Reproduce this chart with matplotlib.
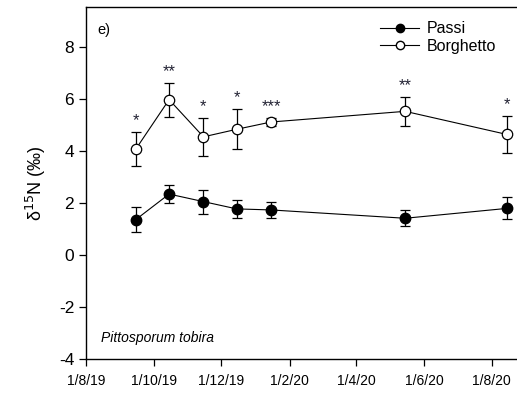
import matplotlib
matplotlib.use("Agg")
import matplotlib.pyplot as plt
from matplotlib.lines import Line2D
import datetime as dt

plt.rcParams['font.family'] = ['Liberation Sans', 'DejaVu Sans']
plt.rcParams['axes.unicode_minus'] = False

# sampling dates
dates = [dt.date(2019, 9, 15), dt.date(2019, 10, 15), dt.date(2019, 11, 15),
         dt.date(2019, 12, 15), dt.date(2020, 1, 15), dt.date(2020, 5, 15),
         dt.date(2020, 8, 15)]

# d15N means and errors
passi = [1.36, 2.34, 2.05, 1.77, 1.73, 1.41, 1.79]
passi_err = [0.49, 0.33, 0.46, 0.34, 0.30, 0.30, 0.42]
borghetto = [4.07, 5.97, 4.54, 4.83, 5.11, 5.52, 4.63]
borghetto_err = [0.64, 0.65, 0.74, 0.77, 0.15, 0.56, 0.70]
signif = ["*", "**", "*", "*", "***", "**", "*"]

tick_dates = [dt.date(2019, 8, 1), dt.date(2019, 10, 1), dt.date(2019, 12, 1),
              dt.date(2020, 2, 1), dt.date(2020, 4, 1), dt.date(2020, 6, 1),
              dt.date(2020, 8, 1)]
tick_labels = ["1/8/19", "1/10/19", "1/12/19", "1/2/20", "1/4/20", "1/6/20", "1/8/20"]

fig = plt.figure(figsize=(5.17, 3.94), dpi=100)
ax = fig.add_axes([0.1663, 0.0888, 0.851, 0.8934])

ax.errorbar(dates, passi, yerr=passi_err, color="black", lw=0.8,
            marker="o", ms=7.5, mfc="black", mec="black", capsize=3.5,
            elinewidth=0.9, capthick=0.9, zorder=3)
ax.errorbar(dates, borghetto, yerr=borghetto_err, color="black", lw=0.8,
            marker="o", ms=7.5, mfc="white", mec="black", mew=0.9, capsize=3.5,
            elinewidth=0.9, capthick=0.9, zorder=3)

# significance stars above the Borghetto bars
for d, v, e, s in zip(dates, borghetto, borghetto_err, signif):
    ax.text(d, v + e + 0.15, s, ha="center", va="bottom", fontsize=12,
            color="#222233")

ax.set_xlim(dt.date(2019, 8, 1), dt.date(2020, 9, 1))
ax.set_ylim(-4, 9.53)
ax.set_yticks([-4, -2, 0, 2, 4, 6, 8])
ax.set_xticks(tick_dates)
ax.set_xticklabels(tick_labels)
ax.tick_params(axis="y", labelsize=12.5, direction="out", length=5, width=0.9)
ax.tick_params(axis="x", labelsize=10, direction="out", length=5, width=0.9, pad=6)
ax.spines["right"].set_visible(False)
for sp in ["left", "bottom", "top"]:
    ax.spines[sp].set_linewidth(1.0)

ax.set_ylabel("δ$^{15}$N (‰)", fontsize=13, labelpad=8)

ax.text(0.027, 0.955, "e)", transform=ax.transAxes, fontsize=10.5, va="top")
ax.text(0.035, 0.04, "Pittosporum tobira", transform=ax.transAxes,
        fontsize=10, style="italic", va="bottom")

handles = [
    Line2D([], [], color="black", lw=0.8, marker="o", ms=6, mfc="black", mec="black"),
    Line2D([], [], color="black", lw=0.8, marker="o", ms=6, mfc="white", mec="black"),
]
ax.legend(handles, ["Passi", "Borghetto"], loc="upper right",
          bbox_to_anchor=(0.965, 1.0), frameon=False, fontsize=11.5,
          handlelength=2.4, labelspacing=0.15, handletextpad=0.5)

fig.savefig("out.png", dpi=100)
